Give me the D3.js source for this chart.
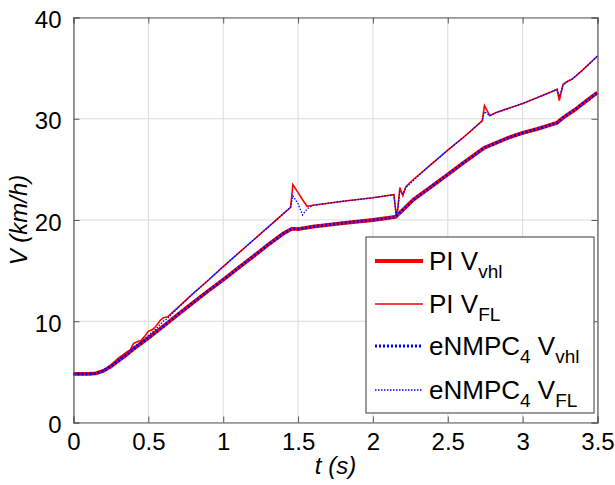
<!DOCTYPE html>
<html><head><meta charset="utf-8">
<script src="https://cdn.jsdelivr.net/npm/d3@7"></script>
<style>body{margin:0;background:#fff}svg{display:block}</style>
</head><body>
<svg id="c" width="615" height="485"></svg>
<script>
const xTicks = [0, 0.5, 1, 1.5, 2, 2.5, 3, 3.5];
const xTickLabels = ["0", "0.5", "1", "1.5", "2", "2.5", "3", "3.5"];
const yTicks = [0, 10, 20, 30, 40];
const yTickLabels = ["0", "10", "20", "30", "40"];

// Vehicle speed (lower curve)
const tVhl = [0,0.05,0.1,0.15,0.2,0.25,0.3,0.35,0.4,0.5,0.6,0.7,0.8,0.9,1.0,1.1,1.2,1.3,1.4,1.46,1.5,1.6,1.8,2.0,2.15,2.2,2.27,2.4,2.5,2.6,2.74,2.78,2.9,3.0,3.1,3.23,3.27,3.35,3.42,3.5];
const piVhl = [4.8,4.8,4.8,4.85,5.1,5.55,6.1,6.65,7.25,8.35,9.5,10.7,11.85,13.0,14.1,15.25,16.4,17.55,18.65,19.15,19.1,19.35,19.7,20.0,20.3,21.0,22.0,23.4,24.5,25.6,27.1,27.35,28.1,28.6,29.0,29.6,30.1,30.9,31.7,32.6];
const nmpcVhl = [4.8,4.8,4.8,4.85,5.1,5.55,6.1,6.65,7.25,8.35,9.5,10.7,11.85,13.0,14.1,15.25,16.4,17.55,18.65,19.15,19.1,19.35,19.7,20.0,20.3,21.0,22.0,23.4,24.5,25.6,27.1,27.35,28.1,28.6,29.0,29.6,30.1,30.9,31.7,32.6];

// Front-left wheel speed (upper curve)
const tFL = [0,0.1,0.15,0.2,0.25,0.3,0.35,0.38,0.4,0.42,0.45,0.48,0.5,0.53,0.55,0.58,0.6,0.63,0.7,0.8,0.9,1.0,1.1,1.2,1.3,1.4,1.45,1.465,1.5,1.53,1.56,1.6,1.8,2.0,2.14,2.155,2.165,2.18,2.2,2.22,2.27,2.35,2.5,2.6,2.73,2.745,2.78,2.82,2.9,3.0,3.1,3.23,3.245,3.27,3.3,3.33,3.4,3.5];
const piFL = [4.8,4.8,4.85,5.15,5.7,6.35,6.9,7.2,7.8,7.95,8.1,8.6,9.0,9.2,9.5,10.1,10.35,10.45,11.4,12.75,14.05,15.4,16.7,18.0,19.3,20.6,21.25,23.5,22.7,22.0,21.35,21.45,21.85,22.2,22.5,20.5,21.0,23.2,22.4,23.3,24.0,25.0,26.9,28.1,29.8,31.3,30.3,30.6,31.0,31.5,32.1,32.9,31.8,33.4,33.7,33.9,34.8,36.2];
const nmpcFL = [4.8,4.8,4.85,5.1,5.6,6.2,6.75,7.1,7.45,7.65,7.95,8.35,8.6,8.95,9.25,9.7,10.0,10.3,11.35,12.75,14.05,15.4,16.7,18.0,19.3,20.6,21.25,22.4,21.6,20.5,21.1,21.45,21.85,22.2,22.5,20.6,21.0,22.8,22.6,23.2,23.9,25.0,26.9,28.1,29.8,30.7,30.3,30.6,31.0,31.5,32.1,32.9,32.2,33.3,33.7,33.9,34.8,36.2];

const svg = d3.select("#c");
const L = 73.5, R = 597.5, T = 17.5, B = 422.5;
const x = d3.scaleLinear().domain([0, 3.5]).range([L, R]);
const y = d3.scaleLinear().domain([0, 40]).range([B, T]);
const font = "Liberation Sans, Arial, Helvetica, sans-serif";
const axisColor = "#5a5a5a";

// grid
const g = svg.append("g");
g.selectAll(".gx").data(xTicks).join("line")
  .attr("x1", d => x(d)).attr("x2", d => x(d)).attr("y1", T).attr("y2", B)
  .attr("stroke", "#dcdcdc").attr("stroke-width", 1);
g.selectAll(".gy").data(yTicks).join("line")
  .attr("y1", d => y(d)).attr("y2", d => y(d)).attr("x1", L).attr("x2", R)
  .attr("stroke", "#dcdcdc").attr("stroke-width", 1);

// curves
const pts = (ts, vs) => ts.map((t, i) => [t, vs[i]]);
const line = d3.line().x(d => x(d[0])).y(d => y(d[1]));
const curves = svg.append("g");
curves.append("path").attr("d", line(pts(tVhl, piVhl))).attr("fill", "none")
  .attr("stroke", "#ff0000").attr("stroke-width", 3.8);
curves.append("path").attr("d", line(pts(tFL, piFL))).attr("fill", "none")
  .attr("stroke", "#ff0000").attr("stroke-width", 1.6);
curves.append("path").attr("d", line(pts(tVhl, nmpcVhl))).attr("fill", "none")
  .attr("stroke", "#0000ff").attr("stroke-width", 3).attr("stroke-dasharray", "2,2");
curves.append("path").attr("d", line(pts(tFL, nmpcFL))).attr("fill", "none")
  .attr("stroke", "#0000ff").attr("stroke-width", 1.3).attr("stroke-dasharray", "1.5,1.5");

// axes with inward ticks on all sides
const ax = svg.append("g");
const axB = d3.axisBottom(x).tickValues(xTicks).tickSize(-6).tickFormat((d, i) => xTickLabels[i]).tickPadding(10);
const axT = d3.axisTop(x).tickValues(xTicks).tickSize(-6).tickFormat("");
const axL = d3.axisLeft(y).tickValues(yTicks).tickSize(-6).tickFormat((d, i) => yTickLabels[i]).tickPadding(12);
const axR = d3.axisRight(y).tickValues(yTicks).tickSize(-6).tickFormat("");
ax.append("g").attr("transform", `translate(0,${B})`).call(axB);
ax.append("g").attr("transform", `translate(0,${T})`).call(axT);
ax.append("g").attr("transform", `translate(${L},0)`).call(axL);
ax.append("g").attr("transform", `translate(${R},0)`).call(axR);
ax.selectAll(".domain").attr("stroke", axisColor).attr("stroke-width", 1.2);
ax.selectAll(".tick line").attr("stroke", axisColor);
ax.selectAll(".tick text").attr("fill", "#000").attr("font-family", font).attr("font-size", 24);
ax.selectAll(".tick text").filter(function(){ return this.parentNode.parentNode.getAttribute("transform") === `translate(${L},0)`; })
  .attr("dy", "0.42em");

// axis titles
svg.append("text").attr("x", x(1.75)).attr("y", 474).attr("text-anchor", "middle")
  .attr("font-family", font).attr("font-size", 24).attr("font-style", "italic").text("t (s)");
svg.append("text").attr("transform", `translate(27,${y(20)}) rotate(-90)`).attr("text-anchor", "middle")
  .attr("font-family", font).attr("font-size", 24).attr("font-style", "italic").text("V (km/h)");

// legend
const legItems = [
  {main: "PI V", sub: "vhl", color: "#ff0000", w: 3.8, dash: null},
  {main: "PI V", sub: "FL", color: "#ff0000", w: 1.6, dash: null},
  {main: "eNMPC", sub4: "4", main2: " V", sub: "vhl", color: "#0000ff", w: 3, dash: "2,2"},
  {main: "eNMPC", sub4: "4", main2: " V", sub: "FL", color: "#0000ff", w: 1.3, dash: "1.5,1.5"}
];
const lg = svg.append("g");
lg.append("rect").attr("x", 366).attr("y", 237).attr("width", 228).attr("height", 176)
  .attr("fill", "#fff").attr("stroke", axisColor).attr("stroke-width", 1.2);
const rowY = [261, 304, 346, 390];
legItems.forEach((it, i) => {
  const yy = rowY[i];
  lg.append("line").attr("x1", 375).attr("x2", 423).attr("y1", yy).attr("y2", yy)
    .attr("stroke", it.color).attr("stroke-width", it.w).attr("stroke-dasharray", it.dash);
  const t = lg.append("text").attr("x", 429).attr("y", yy + 9).attr("font-family", font).attr("font-size", 26);
  t.append("tspan").text(it.main);
  if (it.sub4) {
    t.append("tspan").attr("font-size", 19).attr("dy", 8).text(it.sub4);
    t.append("tspan").attr("dy", -8).text(it.main2);
  }
  t.append("tspan").attr("font-size", 19).attr("dy", 8).text(it.sub);
});
</script>
</body></html>
